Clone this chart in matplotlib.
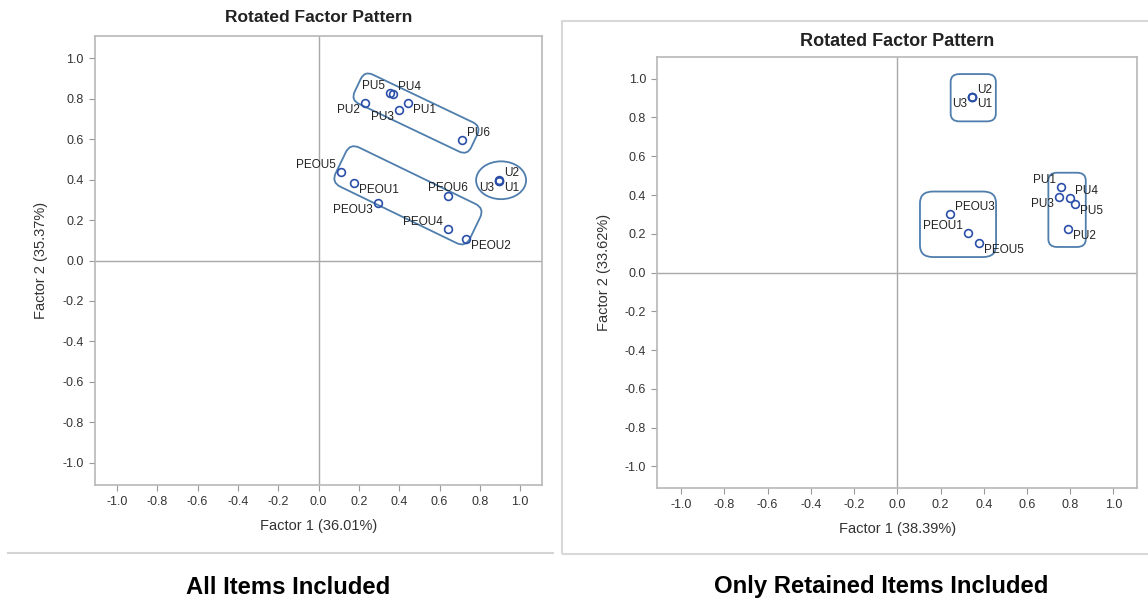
import numpy as np
import matplotlib
matplotlib.use("Agg")
import matplotlib.pyplot as plt
from matplotlib.patches import FancyBboxPatch, Ellipse
from matplotlib.transforms import Affine2D

plt.rcParams["font.family"] = ["Liberation Sans", "DejaVu Sans"]
plt.rcParams["axes.unicode_minus"] = False

# rotated loadings, all items
all_items = ["PU1", "PU2", "PU3", "PU4", "PU5", "PU6",
             "PEOU1", "PEOU2", "PEOU3", "PEOU4", "PEOU5", "PEOU6",
             "U1", "U2", "U3"]
all_f1 = [0.441, 0.231, 0.398, 0.371, 0.354, 0.713,
          0.177, 0.729, 0.294, 0.641, 0.111, 0.641,
          0.895, 0.894, 0.893]
all_f2 = [0.781, 0.781, 0.746, 0.823, 0.830, 0.594,
          0.384, 0.108, 0.283, 0.156, 0.440, 0.318,
          0.394, 0.396, 0.395]
all_where = ["se", "sw", "sw", "ne", "nw", "ne",
             "se", "se", "sw", "nw", "nw", "n",
             "se", "ne", "sw"]

# rotated loadings, retained items only
kept_items = ["PU1", "PU2", "PU3", "PU4", "PU5",
              "PEOU1", "PEOU3", "PEOU5",
              "U1", "U2", "U3"]
kept_f1 = [0.759, 0.792, 0.747, 0.798, 0.821,
           0.327, 0.244, 0.380,
           0.347, 0.346, 0.344]
kept_f2 = [0.443, 0.224, 0.391, 0.386, 0.355,
           0.206, 0.304, 0.151,
           0.904, 0.907, 0.905]
kept_where = ["nw", "se", "sw", "ne", "se",
              "nw", "ne", "se",
              "se", "ne", "sw"]

ticks = np.round(np.arange(-1.0, 1.01, 0.2), 1) + 0.0
lim = (-1.11, 1.11)

point_col = "#2b4fa8"
group_col = "#4f7ead"
frame_col = "#b8b8b8"

offsets = {"ne": (5, 7, "left"), "se": (5, -7, "left"),
           "nw": (-5, 7, "right"), "sw": (-5, -7, "right"),
           "n": (0, 8, "center")}


def factor_plot(ax, names, f1, f2, where, xlab, ylab):
    ax.set_xlim(*lim)
    ax.set_ylim(*lim)
    ax.axhline(0, color="#a8a8a8", lw=1, zorder=1)
    ax.axvline(0, color="#a8a8a8", lw=1, zorder=1)
    ax.plot(f1, f2, "o", ms=5.6, mfc="none", mec=point_col, mew=1.2, zorder=3)
    for n, x, y, w in zip(names, f1, f2, where):
        dx, dy, ha = offsets[w]
        ax.annotate(n, (x, y), xytext=(dx, dy), textcoords="offset pixels",
                    ha=ha, va="center", fontsize=8.5, color="#222222", zorder=4)
    ax.set_xticks(ticks)
    ax.set_yticks(ticks)
    ax.set_xticklabels([f"{abs(t) if t == 0 else t:.1f}" for t in ticks])
    ax.set_yticklabels([f"{abs(t) if t == 0 else t:.1f}" for t in ticks])
    ax.tick_params(direction="out", length=4, width=0.8, color="#999999",
                   labelcolor="#333333", labelsize=9, pad=4)
    for s in ax.spines.values():
        s.set_color(frame_col)
        s.set_linewidth(1.2)
    ax.set_xlabel(xlab, fontsize=10.5, color="#333333", labelpad=8)
    ax.set_ylabel(ylab, fontsize=10.5, color="#333333", labelpad=10)


def rounded_box(ax, cx, cy, w, h, r, angle=0.0):
    box = FancyBboxPatch((cx - w / 2, cy - h / 2), w, h,
                         boxstyle=f"round,pad=0,rounding_size={r}",
                         fc="none", ec=group_col, lw=1.3, zorder=2)
    box.set_transform(Affine2D().rotate_deg_around(cx, cy, angle) + ax.transData)
    ax.add_patch(box)


fig = plt.figure(figsize=(11.48, 6.01), dpi=100)

ax1 = fig.add_axes([0.0825, 0.193, 0.390, 0.747])
factor_plot(ax1, all_items, all_f1, all_f2, all_where,
            "Factor 1 (36.01%)", "Factor 2 (35.37%)")
rounded_box(ax1, 0.483, 0.729, 0.64, 0.16, 0.045, -25.4)
rounded_box(ax1, 0.443, 0.3225, 0.74, 0.215, 0.05, -25.8)
ax1.add_patch(Ellipse((0.905, 0.397), 0.248, 0.187, fc="none",
                      ec=group_col, lw=1.3, zorder=2))

ax2 = fig.add_axes([0.5726, 0.1885, 0.418, 0.716])
factor_plot(ax2, kept_items, kept_f1, kept_f2, kept_where,
            "Factor 1 (38.39%)", "Factor 2 (33.62%)")
rounded_box(ax2, 0.3515, 0.902, 0.209, 0.244, 0.04)
rounded_box(ax2, 0.7855, 0.3235, 0.173, 0.383, 0.04)
rounded_box(ax2, 0.281, 0.249, 0.352, 0.338, 0.06)

fig.text(318.7 / 1148, 1 - 17 / 601, "Rotated Factor Pattern",
         ha="center", va="center", fontsize=12.5, fontweight="bold", color="#222222")
fig.text(897.3 / 1148, 1 - 41 / 601, "Rotated Factor Pattern",
         ha="center", va="center", fontsize=13, fontweight="bold", color="#222222")

# panel separators
fig.add_artist(plt.Line2D([8 / 1148, 553 / 1148], [1 - 553 / 601] * 2,
                          color="#d4d4d4", lw=1.5))
fig.add_artist(plt.Rectangle((562 / 1148, 1 - 554 / 601), 0.6, (554 - 21) / 601,
                             fill=False, ec="#d8d8d8", lw=1.5))

fig.text(288 / 1148, 1 - 587 / 601, "All Items Included",
         ha="center", va="center", fontsize=17.2, fontweight="bold", color="black")
fig.text(881 / 1148, 1 - 587 / 601, "Only Retained Items Included",
         ha="center", va="center", fontsize=17.2, fontweight="bold", color="black")

fig.savefig("out.png", dpi=100)
